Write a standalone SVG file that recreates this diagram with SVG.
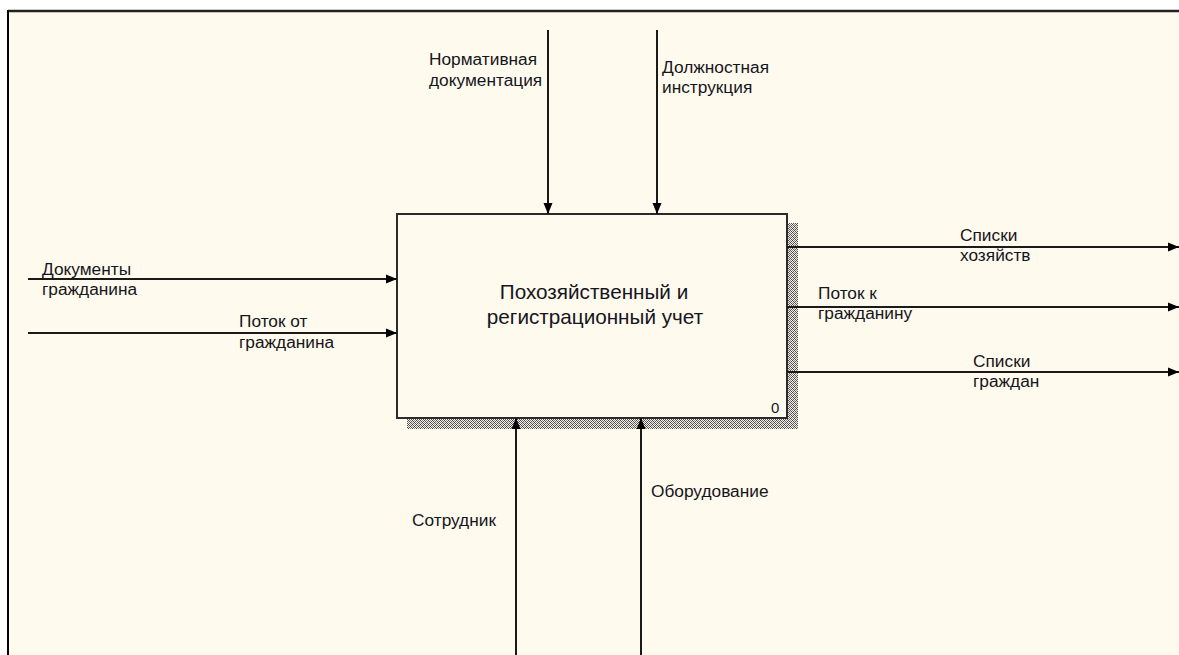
<svg xmlns="http://www.w3.org/2000/svg" width="1179" height="655" viewBox="0 0 1179 655">
<style>
.lbl{font-family:"Liberation Sans",Arial,sans-serif;font-size:17.3px;fill:#151520}
.ttl{font-family:"Liberation Sans",Arial,sans-serif;font-size:20.7px;fill:#151520}
.num{font-family:"Liberation Sans",Arial,sans-serif;font-size:15px;fill:#151520}
.arrow{stroke:#1a1a1a;stroke-width:2;fill:none}
</style>
<defs>
<marker id="ah" markerUnits="userSpaceOnUse" markerWidth="13" markerHeight="13" viewBox="0 0 13 13" refX="12" refY="6.5" orient="auto">
<path d="M1,2 L12,6.5 L1,11 Z" fill="#000"/>
</marker>
<pattern id="hatch" width="4" height="4" patternUnits="userSpaceOnUse">
<rect width="4" height="4" fill="#f3efe4"/>
<rect x="0" y="0" width="1" height="1" fill="#444"/>
<rect x="2" y="0" width="1" height="1" fill="#888"/>
<rect x="1" y="1" width="1" height="1" fill="#555"/>
<rect x="3" y="1" width="1" height="1" fill="#555"/>
<rect x="0" y="2" width="1" height="1" fill="#888"/>
<rect x="2" y="2" width="1" height="1" fill="#444"/>
<rect x="1" y="3" width="1" height="1" fill="#555"/>
<rect x="3" y="3" width="1" height="1" fill="#555"/>
</pattern>
</defs>
<rect width="1179" height="655" fill="#ffffff"/>
<rect x="8" y="11" width="1171" height="644" fill="#fffaee"/>
<line x1="8" y1="11" x2="1179" y2="11" stroke="#222" stroke-width="2.5"/>
<line x1="8" y1="10" x2="8" y2="655" stroke="#000" stroke-width="2"/>

<g id="node-0">
<rect x="788" y="223" width="10" height="206" fill="url(#hatch)"/>
<rect x="407" y="419" width="391" height="10" fill="url(#hatch)"/>
<rect x="397" y="214" width="390" height="204" fill="#fffaee" stroke="#2a2a2a" stroke-width="2"/>
<text class="ttl" x="594" y="299" text-anchor="middle">Похозяйственный и</text>
<text class="ttl" x="595" y="324" text-anchor="middle">регистрационный учет</text>
<text class="num" x="771" y="413">0</text>
</g>

<g id="connectors">
<line class="arrow" x1="548" y1="30" x2="548" y2="214" marker-end="url(#ah)"/>
<line class="arrow" x1="657" y1="30" x2="657" y2="214" marker-end="url(#ah)"/>
<line class="arrow" x1="28" y1="279" x2="397" y2="279" marker-end="url(#ah)"/>
<line class="arrow" x1="28" y1="333" x2="397" y2="333" marker-end="url(#ah)"/>
<line class="arrow" x1="787" y1="247" x2="1179" y2="247" marker-end="url(#ah)"/>
<line class="arrow" x1="787" y1="307" x2="1179" y2="307" marker-end="url(#ah)"/>
<line class="arrow" x1="787" y1="372" x2="1179" y2="372" marker-end="url(#ah)"/>
<line class="arrow" x1="516" y1="655" x2="516" y2="418" marker-end="url(#ah)"/>
<line class="arrow" x1="641" y1="655" x2="641" y2="418" marker-end="url(#ah)"/>
</g>

<g id="labels">
<text class="lbl" x="429" y="65">Нормативная</text>
<text class="lbl" x="429" y="86">документация</text>
<text class="lbl" x="662" y="73">Должностная</text>
<text class="lbl" x="662" y="93">инструкция</text>
<text class="lbl" x="42" y="275">Документы</text>
<text class="lbl" x="42" y="295">гражданина</text>
<text class="lbl" x="239" y="327">Поток от</text>
<text class="lbl" x="239" y="348">гражданина</text>
<text class="lbl" x="960" y="241">Списки</text>
<text class="lbl" x="960" y="261">хозяйств</text>
<text class="lbl" x="818" y="299">Поток к</text>
<text class="lbl" x="818" y="319">гражданину</text>
<text class="lbl" x="973" y="367">Списки</text>
<text class="lbl" x="973" y="387">граждан</text>
<text class="lbl" x="412" y="526">Сотрудник</text>
<text class="lbl" x="651" y="497">Оборудование</text>
</g>
</svg>
